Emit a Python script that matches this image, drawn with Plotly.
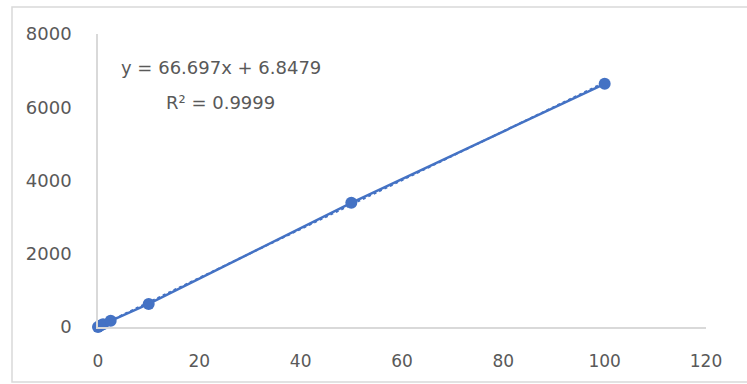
import plotly.graph_objects as go

# Calibration standards: concentration vs. measured response
concentration = [0, 0.5, 1, 2.5, 10, 50, 100]
response = [0, 38, 72, 170, 630, 3390, 6640]

# Linear trendline coefficients
slope = 66.697
intercept = 6.8479
r_squared = 0.9999

x_ticks = [0, 20, 40, 60, 80, 100, 120]
y_ticks = [0, 2000, 4000, 6000, 8000]

blue = "#4472C4"
text_grey = "#595959"
axis_grey = "#D9D9D9"
font_family = "DejaVu Sans, sans-serif"

fit_x = [min(concentration), max(concentration)]
fit_y = [slope * v + intercept for v in fit_x]

fig = go.Figure()

fig.add_trace(go.Scatter(
    x=fit_x, y=fit_y, mode="lines",
    line=dict(color=blue, width=2, dash="dot"),
    hoverinfo="skip", showlegend=False, cliponaxis=False,
))

fig.add_trace(go.Scatter(
    x=concentration, y=response, mode="lines+markers",
    line=dict(color=blue, width=2.5),
    marker=dict(color=blue, size=12),
    showlegend=False, cliponaxis=False,
))

fig.update_xaxes(
    range=[0, 120], tickvals=x_ticks,
    showgrid=False, zeroline=False,
    showline=True, linecolor=axis_grey, linewidth=1.5,
    ticks="outside", ticklen=18, tickcolor="rgba(0,0,0,0)",
    tickfont=dict(family=font_family, size=17, color=text_grey),
)
fig.update_yaxes(
    range=[0, 8000], tickvals=y_ticks,
    showgrid=False, zeroline=False,
    showline=True, linecolor=axis_grey, linewidth=1.5,
    ticks="outside", ticklen=21, tickcolor="rgba(0,0,0,0)",
    tickfont=dict(family=font_family, size=18, color=text_grey),
)

eq_text = f"y = {slope}x + {intercept}"
r2_text = f"R² = {r_squared}"

fig.add_annotation(
    x=(119 - 98) / 608, y=(327 - 67) / 293, xref="paper", yref="paper",
    text=eq_text, showarrow=False, xanchor="left", yanchor="middle",
    font=dict(family=font_family, size=18, color=text_grey),
)
fig.add_annotation(
    x=(164 - 98) / 608, y=(327 - 103) / 293, xref="paper", yref="paper",
    text=r2_text, showarrow=False, xanchor="left", yanchor="middle",
    font=dict(family=font_family, size=18, color=text_grey),
)

# Chart-area frame
fig.add_shape(
    type="rect", xref="paper", yref="paper",
    x0=(12 - 98) / 608, x1=(760 - 98) / 608,
    y0=(327 - 382) / 293, y1=(327 - 7) / 293,
    line=dict(color=axis_grey, width=1.5), fillcolor="rgba(0,0,0,0)",
    layer="below",
)

fig.update_layout(
    width=747, height=384,
    margin=dict(l=98, r=41, t=34, b=57),
    plot_bgcolor="white", paper_bgcolor="white",
)

fig.write_html("out.html")
